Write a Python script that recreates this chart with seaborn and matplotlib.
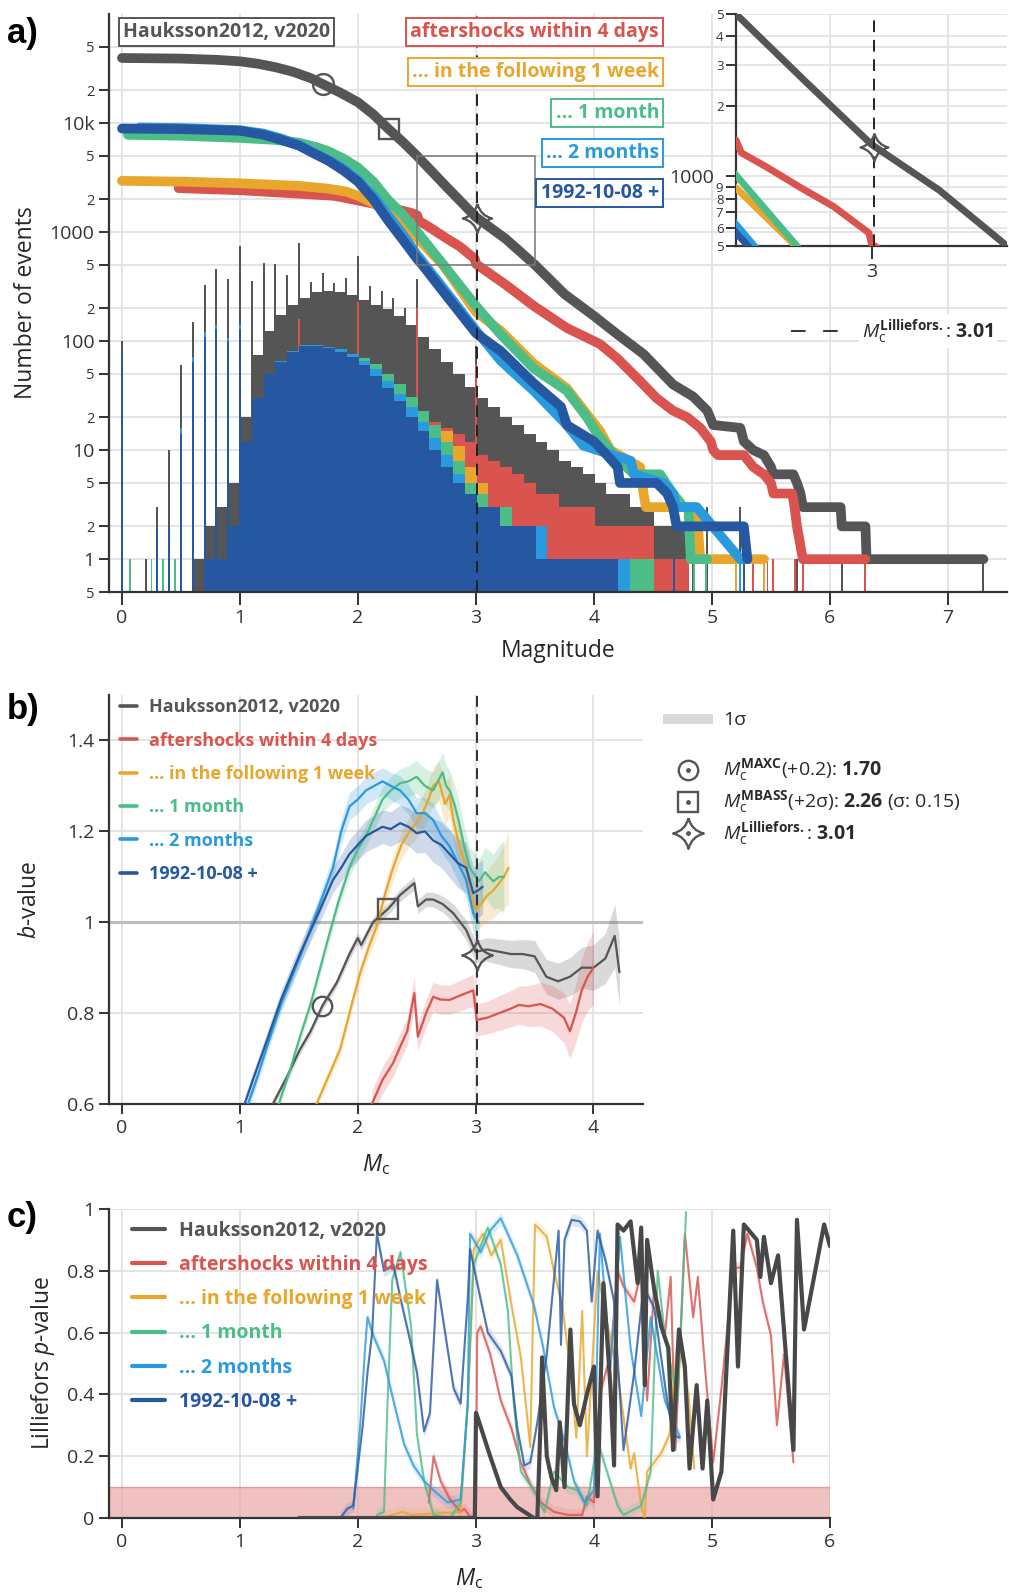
import numpy as np
import matplotlib
matplotlib.use("Agg")
import matplotlib.pyplot as plt
import seaborn as sns
from matplotlib.path import Path
from matplotlib.lines import Line2D
from matplotlib.patches import Rectangle
from matplotlib.ticker import FixedLocator, FixedFormatter

W, H = 1009, 1595

# ---------------------------------------------------------------- data
series = ["Hauksson2012, v2020", "aftershocks within 4 days",
          "... in the following 1 week", "... 1 month", "... 2 months",
          "1992-10-08 +"]
colors = ["#555555", "#d9534f", "#e8a62c", "#4dbd88", "#2a9ade", "#2658a2"]

# cumulative number of events N(>=M)
cum_m_hauksson = [0.0, 0.5, 0.8, 1.0, 1.15, 1.3, 1.45, 1.6, 1.7, 1.85, 2.0, 2.13, 2.26, 2.38, 2.5,
                  2.75, 3.0, 3.25, 3.5, 3.75, 4.0, 4.2, 4.42, 4.67, 4.84, 4.96, 5.01, 5.24, 5.27,
                  5.35, 5.44, 5.5, 5.52, 5.69, 5.72, 5.75, 5.77, 6.09, 6.1, 6.3, 6.31, 7.3]
cum_n_hauksson = [39500, 39000, 38000, 36800, 35000, 32500, 29500, 25800, 22800, 19000, 15500, 12000,
                  8800, 6700, 5000, 2600, 1370, 870, 500, 270, 170, 115, 76, 40, 31, 23, 17, 16, 12,
                  10, 9, 7, 6, 6, 5, 4, 3, 3, 2, 2, 1, 1]
cum_m_aftershocks = [0.48, 1.0, 1.5, 1.8, 2.0, 2.15, 2.3, 2.45, 2.5, 2.52, 2.61, 2.74, 2.86, 2.96,
                     2.99, 3.0, 3.25, 3.49, 3.77, 4.05, 4.2, 4.39, 4.53, 4.67, 4.79, 4.9, 4.99, 5.01,
                     5.05, 5.27, 5.35, 5.44, 5.5, 5.52, 5.68, 5.7, 5.72, 5.77, 6.3]
cum_n_aftershocks = [2530, 2420, 2250, 2150, 1950, 1800, 1650, 1500, 1430, 1260, 1100, 890, 740, 605,
                     570, 510, 330, 210, 132, 94, 69, 43, 30, 23, 20, 16, 12, 10, 9, 9, 7, 6, 5, 4,
                     4, 3, 2, 1, 1]
cum_m_week = [0.0, 0.5, 1.0, 1.5, 1.75, 1.9, 2.0, 2.13, 2.25, 2.38, 2.5, 2.72, 3.0, 3.21, 3.49, 3.77,
              4.05, 4.14, 4.39, 4.42, 4.44, 4.87, 4.9, 5.44]
cum_n_week = [2950, 2900, 2800, 2650, 2500, 2350, 2150, 1850, 1500, 1150, 890, 500, 185, 124, 62, 37,
              15, 10, 7, 4, 3, 3, 1, 1]
cum_m_month = [0.05, 0.5, 1.0, 1.3, 1.5, 1.65, 1.75, 1.88, 2.0, 2.13, 2.25, 2.38, 2.5, 2.725, 3.0,
               3.21, 3.49, 3.77, 3.94, 4.03, 4.17, 4.34, 4.56, 4.67, 4.76, 4.8, 4.82, 4.96]
cum_n_month = [7800, 7650, 7300, 7000, 6600, 6000, 5500, 4700, 3900, 2900, 2000, 1450, 1010, 500,
               210, 115, 56, 35, 20, 14, 9, 6, 6, 4, 3, 3, 1, 1]
cum_m_2months = [0.15, 0.5, 1.0, 1.2, 1.35, 1.5, 1.62, 1.75, 1.88, 2.0, 2.13, 2.25, 2.38, 2.5, 2.75,
                 3.0, 3.21, 3.49, 3.77, 3.91, 4.31, 4.34, 4.59, 4.67, 4.7, 4.87, 5.24, 5.3]
cum_n_2months = [9100, 9000, 8600, 8000, 7200, 6300, 5400, 4600, 3800, 3000, 2150, 1450, 950, 620,
                 280, 125, 66, 35, 17, 11, 8, 6, 5, 4, 3, 3, 1, 1]
cum_m_1992 = [0.0, 0.5, 1.0, 1.2, 1.35, 1.5, 1.62, 1.75, 1.88, 2.0, 2.13, 2.25, 2.38, 2.5, 2.545,
              2.75, 3.0, 3.21, 3.49, 3.72, 3.77, 4.0, 4.11, 4.2, 4.22, 4.53, 4.62, 4.67, 4.7, 5.27,
              5.3]
cum_n_1992 = [8900, 8800, 8500, 7800, 7000, 6200, 5300, 4500, 3650, 2900, 2000, 1300, 850, 570, 500,
              260, 118, 81, 41, 25, 17, 12, 9, 7, 5, 5, 4, 3, 2, 2, 1]

# events per 0.01 magnitude bin, summarised in 0.1-wide blocks starting at M 0.5
hist_start, hist_step = 0.5, 0.1
hist_hauksson = [0, 1, 2, 3, 5, 20, 75, 125, 175, 215, 250, 280, 290, 280, 265, 240, 215, 195, 170,
                 140, 110, 85, 65, 50, 38, 30, 25, 20, 17, 14, 12, 10, 8, 7, 6, 5, 4, 4, 3, 3, 2, 2, 2]
hist_aftershocks = [0, 0, 0, 0, 0, 2, 2, 2, 2, 2, 5, 6, 6, 7, 8, 9, 9, 10, 10, 11, 18, 18, 16, 14, 12,
                    9, 8, 7, 6, 5, 4, 4, 3, 3, 3, 2, 2, 2, 2, 2, 1, 1, 1]
hist_week = [0, 0, 0, 0, 1, 2, 2, 3, 4, 6, 8, 10, 14, 18, 22, 26, 27, 26, 24, 21, 18, 17, 15, 11, 7,
             5, 3, 3, 2, 2, 2, 1, 1, 1, 1, 1, 1, 1, 1, 1, 0, 0, 0]
hist_month = [0, 0, 0, 1, 2, 8, 20, 32, 42, 55, 65, 75, 80, 80, 75, 70, 62, 50, 40, 31, 23, 17, 12, 8,
              5, 4, 3, 3, 2, 2, 2, 1, 1, 1, 1, 1, 1, 1, 1, 1, 0, 0, 0]
hist_2months = [0, 0, 1, 1, 2, 12, 30, 50, 66, 82, 92, 92, 88, 84, 76, 66, 55, 43, 33, 25, 18, 13, 9,
                6, 4, 3, 3, 2, 2, 2, 2, 1, 1, 1, 1, 1, 1, 1, 0, 0, 0, 0, 0]
hist_1992 = [0, 0, 1, 1, 2, 12, 30, 50, 65, 80, 90, 90, 86, 80, 72, 60, 48, 37, 28, 20, 15, 10, 7, 5,
             4, 3, 3, 2, 2, 2, 1, 1, 1, 1, 1, 1, 1, 0, 0, 0, 0, 0, 0]

# single-bin counts (rounded magnitudes and isolated large events)
spike_m_hauksson = [0.0, 0.2, 0.3, 0.4, 0.5, 0.6, 0.7, 0.8, 0.9, 1.0, 1.1, 1.2, 1.3, 1.4, 1.5, 1.6,
                    1.7, 1.8, 1.9, 2.0, 2.1, 2.2, 2.3, 2.4, 2.5, 3.0, 4.84, 4.96, 5.24, 5.47, 5.72,
                    6.1, 7.3]
spike_n_hauksson = [100, 1, 3, 10, 60, 150, 330, 460, 370, 745, 355, 520, 505, 400, 790, 350, 420,
                    340, 380, 600, 320, 290, 250, 200, 370, 90, 3, 3, 3, 1, 1, 1, 1]
spike_m_aftershocks = [1.5, 2.0, 2.5, 3.0, 5.35, 5.47, 5.52, 5.7, 5.77, 6.3]
spike_n_aftershocks = [160, 230, 200, 62, 1, 1, 1, 1, 1, 1]
spike_m_week = [4.95, 5.2, 5.44]
spike_n_week = [1, 1, 1]
spike_m_month = [0.07, 0.25, 0.3, 0.35, 0.45, 4.85, 4.95]
spike_n_month = [1, 1, 1, 1, 1, 1, 1]
spike_m_2months = [0.5, 0.6, 0.7, 0.8, 0.9, 1.0, 5.24]
spike_n_2months = [16, 72, 122, 142, 107, 142, 1]
spike_m_1992 = [0.0, 0.3, 0.4, 0.5, 0.6, 0.7, 0.8, 0.9, 1.0, 4.68, 5.27]
spike_n_1992 = [76, 2, 2, 14, 65, 110, 130, 100, 130, 1, 1]

# completeness estimates
mc_maxc, mc_mbass, mc_lillie = 1.70, 2.26, 3.01
cum_at_mc = [22800, 8800, 1340]
b_at_mc = [0.816, 1.03, 0.928]

# b-value vs Mc: (Mc, b, sigma)
b_hauksson = [(1.28, 0.60, 0.01), (1.4, 0.66, 0.01), (1.51, 0.72, 0.01), (1.6, 0.76, 0.01),
              (1.70, 0.816, 0.01), (1.82, 0.866, 0.01), (1.93, 0.93, 0.012), (2.0, 0.965, 0.012),
              (2.03, 0.95, 0.012), (2.13, 1.0, 0.012), (2.26, 1.03, 0.013), (2.36, 1.06, 0.014),
              (2.48, 1.086, 0.015), (2.51, 1.035, 0.015), (2.58, 1.05, 0.016), (2.64, 1.05, 0.016),
              (2.72, 1.04, 0.018), (2.81, 1.02, 0.02), (2.92, 0.983, 0.022), (3.0, 0.935, 0.024),
              (3.1, 0.94, 0.026), (3.2, 0.935, 0.028), (3.3, 0.93, 0.03), (3.4, 0.93, 0.032),
              (3.5, 0.925, 0.035), (3.6, 0.88, 0.038), (3.7, 0.87, 0.04), (3.8, 0.88, 0.042),
              (3.9, 0.9, 0.045), (4.0, 0.9, 0.05), (4.1, 0.92, 0.055), (4.18, 0.97, 0.07),
              (4.22, 0.89, 0.075)]
b_aftershocks = [(2.12, 0.60, 0.03), (2.21, 0.653, 0.03), (2.3, 0.69, 0.03), (2.36, 0.726, 0.03),
                 (2.42, 0.76, 0.03), (2.48, 0.844, 0.035), (2.51, 0.748, 0.03), (2.58, 0.8, 0.03),
                 (2.64, 0.836, 0.032), (2.7, 0.83, 0.032), (2.78, 0.829, 0.032), (2.88, 0.84, 0.034),
                 (2.98, 0.85, 0.035), (3.01, 0.785, 0.035), (3.1, 0.79, 0.036), (3.2, 0.8, 0.038),
                 (3.3, 0.81, 0.04), (3.37, 0.818, 0.042), (3.45, 0.815, 0.045), (3.55, 0.82, 0.048),
                 (3.65, 0.81, 0.05), (3.75, 0.79, 0.055), (3.8, 0.76, 0.06), (3.85, 0.8, 0.065),
                 (3.9, 0.85, 0.07), (3.95, 0.88, 0.075), (4.0, 0.9, 0.08)]
b_week = [(1.65, 0.60, 0.01), (1.75, 0.66, 0.012), (1.85, 0.72, 0.014), (1.95, 0.82, 0.016),
          (2.02, 0.888, 0.018), (2.1, 0.95, 0.02), (2.16, 0.99, 0.022), (2.23, 1.06, 0.025),
          (2.3, 1.12, 0.028), (2.37, 1.17, 0.03), (2.44, 1.2, 0.032), (2.5, 1.22, 0.035),
          (2.55, 1.24, 0.038), (2.6, 1.27, 0.04), (2.64, 1.30, 0.042), (2.69, 1.31, 0.045),
          (2.74, 1.26, 0.045), (2.78, 1.28, 0.045), (2.81, 1.225, 0.045), (2.86, 1.17, 0.045),
          (2.92, 1.12, 0.045), (2.96, 1.07, 0.045), (3.0, 1.027, 0.045), (3.05, 1.04, 0.05),
          (3.09, 1.057, 0.055), (3.15, 1.07, 0.06), (3.2, 1.086, 0.065), (3.24, 1.1, 0.07),
          (3.28, 1.12, 0.08)]
b_month = [(1.33, 0.60, 0.01), (1.42, 0.67, 0.01), (1.51, 0.748, 0.012), (1.6, 0.82, 0.014),
           (1.73, 0.946, 0.016), (1.83, 1.04, 0.018), (1.93, 1.12, 0.02), (2.0, 1.16, 0.022),
           (2.07, 1.19, 0.024), (2.14, 1.23, 0.026), (2.21, 1.27, 0.028), (2.28, 1.29, 0.03),
           (2.36, 1.306, 0.032), (2.43, 1.31, 0.034), (2.5, 1.32, 0.036), (2.57, 1.3, 0.038),
           (2.64, 1.29, 0.04), (2.68, 1.31, 0.042), (2.72, 1.33, 0.045), (2.75, 1.3, 0.045),
           (2.78, 1.29, 0.045), (2.82, 1.26, 0.045), (2.86, 1.22, 0.045), (2.9, 1.17, 0.045),
           (2.95, 1.12, 0.045), (3.0, 1.1, 0.05), (3.03, 1.09, 0.05), (3.08, 1.11, 0.055),
           (3.15, 1.09, 0.06), (3.2, 1.1, 0.07), (3.24, 1.1, 0.08)]
b_2months = [(1.07, 0.60, 0.015), (1.15, 0.66, 0.015), (1.23, 0.726, 0.016), (1.35, 0.82, 0.018),
             (1.51, 0.924, 0.02), (1.65, 1.02, 0.022), (1.79, 1.12, 0.025), (1.86, 1.2, 0.027),
             (1.93, 1.255, 0.03), (2.0, 1.27, 0.03), (2.07, 1.29, 0.03), (2.14, 1.30, 0.03),
             (2.21, 1.31, 0.03), (2.28, 1.3, 0.03), (2.36, 1.29, 0.032), (2.43, 1.27, 0.033),
             (2.5, 1.24, 0.034), (2.57, 1.24, 0.035), (2.64, 1.225, 0.036), (2.71, 1.19, 0.037),
             (2.78, 1.167, 0.038), (2.85, 1.13, 0.04), (2.92, 1.093, 0.04), (2.98, 1.02, 0.042),
             (3.03, 0.998, 0.045)]
b_1992 = [(1.04, 0.60, 0.015), (1.12, 0.66, 0.016), (1.23, 0.74, 0.018), (1.35, 0.83, 0.02),
          (1.51, 0.93, 0.022), (1.65, 1.01, 0.025), (1.79, 1.093, 0.028), (1.86, 1.12, 0.03),
          (1.93, 1.15, 0.032), (2.0, 1.17, 0.034), (2.07, 1.19, 0.035), (2.14, 1.2, 0.036),
          (2.21, 1.21, 0.037), (2.28, 1.205, 0.038), (2.36, 1.218, 0.04), (2.43, 1.21, 0.042),
          (2.5, 1.196, 0.044), (2.57, 1.2, 0.046), (2.64, 1.18, 0.048), (2.71, 1.17, 0.05),
          (2.78, 1.15, 0.052), (2.85, 1.13, 0.054), (2.92, 1.12, 0.056), (2.98, 1.064, 0.058),
          (3.02, 1.07, 0.06), (3.06, 1.078, 0.06)]

# Lilliefors p-value vs Mc: (Mc, p)
p_hauksson = [(1.5, 0.0), (2.99, 0.0), (3.0, 0.34), (3.01, 0.33), (3.12, 0.2), (3.21, 0.1),
              (3.29, 0.06), (3.35, 0.035), (3.49, 0.0), (3.52, 0.0), (3.55, 0.34), (3.56, 0.52),
              (3.6, 0.2), (3.64, 0.13), (3.68, 0.09), (3.71, 0.31), (3.75, 0.1), (3.8, 0.61),
              (3.83, 0.37), (3.88, 0.30), (3.94, 0.40), (4.0, 0.49), (4.03, 0.07), (4.08, 0.76),
              (4.14, 0.42), (4.17, 0.17), (4.2, 0.95), (4.25, 0.93), (4.31, 0.96), (4.37, 0.76),
              (4.4, 0.94), (4.43, 0.43), (4.45, 0.9), (4.51, 0.74), (4.57, 0.62), (4.63, 0.55),
              (4.67, 0.22), (4.72, 0.61), (4.77, 0.49), (4.81, 0.16), (4.87, 0.43), (4.92, 0.16),
              (4.96, 0.38), (5.01, 0.06), (5.08, 0.15), (5.18, 0.93), (5.22, 0.49), (5.27, 0.95),
              (5.38, 0.9), (5.41, 0.78), (5.44, 0.91), (5.5, 0.76), (5.56, 0.85), (5.69, 0.22),
              (5.72, 0.965), (5.78, 0.61), (5.95, 0.95), (6.0, 0.88)]
p_aftershocks = [(2.6, 0.05), (2.64, 0.2), (2.7, 0.12), (2.78, 0.06), (2.87, 0.02), (2.9, 0.03),
                 (2.96, 0.0), (3.0, 0.0), (3.01, 0.6), (3.04, 0.62), (3.12, 0.53), (3.21, 0.38),
                 (3.3, 0.29), (3.38, 0.18), (3.46, 0.11), (3.55, 0.05), (3.66, 0.02), (3.78, 0.01),
                 (3.9, 0.01), (3.94, 0.07), (4.0, 0.05), (4.05, 0.4), (4.14, 0.53), (4.2, 0.8),
                 (4.25, 0.75), (4.34, 0.7), (4.4, 0.8), (4.45, 0.38), (4.51, 0.75), (4.6, 0.59),
                 (4.65, 0.78), (4.69, 0.22), (4.77, 0.92), (4.84, 0.65), (4.88, 0.78), (4.94, 0.49),
                 (5.01, 0.18), (5.08, 0.42), (5.18, 0.81), (5.24, 0.81), (5.3, 0.92), (5.38, 0.81),
                 (5.43, 0.7), (5.5, 0.59), (5.55, 0.3), (5.61, 0.53), (5.69, 0.18)]
p_week = [(2.2, 0.0), (2.38, 0.02), (2.45, 0.01), (2.87, 0.02), (2.93, 0.37), (2.98, 0.87),
          (3.06, 0.92), (3.13, 0.85), (3.21, 0.9), (3.3, 0.69), (3.38, 0.52), (3.46, 0.23),
          (3.5, 0.95), (3.6, 0.91), (3.66, 0.8), (3.73, 0.69), (3.8, 0.48), (3.85, 0.26),
          (3.9, 0.67), (3.94, 0.2), (4.03, 0.8), (4.1, 0.65), (4.2, 0.47), (4.27, 0.27),
          (4.31, 0.16), (4.34, 0.21), (4.4, 0.04), (4.43, 0.0), (4.45, 0.15), (4.57, 0.21),
          (4.64, 0.27), (4.71, 0.59), (4.8, 0.4), (4.85, 0.16)]
p_month = [(2.16, 0.01), (2.22, 0.02), (2.25, 0.37), (2.29, 0.77), (2.36, 0.86), (2.45, 0.62),
           (2.5, 0.27), (2.56, 0.12), (2.64, 0.01), (2.78, 0.0), (2.87, 0.05), (2.93, 0.37),
           (2.98, 0.82), (3.1, 0.94), (3.21, 0.82), (3.27, 0.67), (3.32, 0.37), (3.38, 0.15),
           (3.49, 0.09), (3.58, 0.02), (3.66, 0.15), (3.78, 0.1), (3.86, 0.09), (3.94, 0.04),
           (4.03, 0.25), (4.11, 0.15), (4.2, 0.04), (4.25, 0.01), (4.4, 0.04), (4.48, 0.15),
           (4.54, 0.8), (4.6, 0.59), (4.71, 0.38), (4.78, 0.99)]
p_2months = [(1.96, 0.03), (2.02, 0.31), (2.06, 0.55), (2.08, 0.65), (2.13, 0.59), (2.22, 0.51),
             (2.3, 0.38), (2.39, 0.24), (2.47, 0.17), (2.56, 0.12), (2.64, 0.09), (2.76, 0.05),
             (2.87, 0.06), (2.93, 0.37), (2.95, 0.92), (3.04, 0.86), (3.12, 0.93), (3.21, 0.97),
             (3.35, 0.85), (3.49, 0.69), (3.57, 0.55), (3.66, 0.36), (3.75, 0.25), (3.83, 0.12),
             (3.92, 0.05), (4.0, 0.09), (4.05, 0.92), (4.14, 0.49), (4.22, 0.91), (4.31, 0.55),
             (4.4, 0.33), (4.48, 0.65), (4.6, 0.38), (4.73, 0.26)]
p_1992 = [(1.85, 0.0), (1.91, 0.03), (1.96, 0.04), (2.0, 0.17), (2.04, 0.3), (2.08, 0.47),
          (2.12, 0.6), (2.16, 0.92), (2.22, 0.8), (2.3, 0.82), (2.36, 0.71), (2.45, 0.56),
          (2.5, 0.47), (2.56, 0.28), (2.61, 0.34), (2.67, 0.77), (2.73, 0.62), (2.81, 0.42),
          (2.87, 0.37), (2.93, 0.71), (2.95, 0.87), (3.01, 0.76), (3.1, 0.6), (3.21, 0.54),
          (3.3, 0.46), (3.35, 0.29), (3.41, 0.17), (3.46, 0.18), (3.52, 0.31), (3.6, 0.53),
          (3.7, 0.93), (3.72, 0.56), (3.75, 0.9), (3.81, 0.965), (3.88, 0.96), (3.94, 0.93),
          (3.98, 0.7), (4.03, 0.93), (4.05, 0.9), (4.1, 0.83), (4.17, 0.7), (4.25, 0.22),
          (4.34, 0.47), (4.42, 0.75), (4.51, 0.68), (4.62, 0.38), (4.67, 0.27), (4.72, 0.26)]
p_band = 0.02
p_reject = 0.1

cum_m = [cum_m_hauksson, cum_m_aftershocks, cum_m_week, cum_m_month, cum_m_2months, cum_m_1992]
cum_n = [cum_n_hauksson, cum_n_aftershocks, cum_n_week, cum_n_month, cum_n_2months, cum_n_1992]
hists = [hist_hauksson, hist_aftershocks, hist_week, hist_month, hist_2months, hist_1992]
spike_m = [spike_m_hauksson, spike_m_aftershocks, spike_m_week, spike_m_month, spike_m_2months, spike_m_1992]
spike_n = [spike_n_hauksson, spike_n_aftershocks, spike_n_week, spike_n_month, spike_n_2months, spike_n_1992]
bvals = [b_hauksson, b_aftershocks, b_week, b_month, b_2months, b_1992]
pvals = [p_hauksson, p_aftershocks, p_week, p_month, p_2months, p_1992]

# ---------------------------------------------------------------- style
sns.set_theme(style="white")
plt.rcParams["font.family"] = ["Open Sans", "DejaVu Sans"]
plt.rcParams.update({
    "mathtext.fontset": "custom",
    "mathtext.rm": "Open Sans",
    "mathtext.it": "Open Sans:italic",
    "mathtext.bf": "Open Sans:bold",
    "axes.edgecolor": "#333333",
    "text.color": "#2a2a2a",
    "xtick.color": "#333333",
    "ytick.color": "#333333",
})
INK = "#333333"
GRID = "#e2e2e2"

# four-pointed star marker with concave sides
star = Path([(0, 1), (0.2, 0.2), (1, 0), (0.2, -0.2), (0, -1), (-0.2, -0.2), (-1, 0), (-0.2, 0.2), (0, 1)],
            [Path.MOVETO] + [Path.CURVE3] * 8)


def rect(l, t, r, b):
    return [l / W, 1 - b / H, (r - l) / W, (b - t) / H]


def fpx(x, y):
    return (x / W, 1 - y / H)


def style_axes(ax):
    for s in ("top", "right"):
        ax.spines[s].set_visible(False)
    for s in ("left", "bottom"):
        ax.spines[s].set_linewidth(1.6)
        ax.spines[s].set_color(INK)
    ax.tick_params(which="both", direction="out", length=7, width=1.4, labelsize=14,
                   left=True, bottom=True, colors=INK)
    ax.set_axisbelow(True)


fig = plt.figure(figsize=(W / 100, H / 100), dpi=100)

# ================================================================ panel a
ax = fig.add_axes(rect(109, 14, 1007, 592))
style_axes(ax)
ax.set_yscale("log")
ax.set_xlim(-0.11, 7.5)
ax.set_ylim(0.5, 1.0e5)
ax.grid(True, which="both", color=GRID, lw=1.3)

edges = hist_start + hist_step * np.arange(len(hist_hauksson))
for i in range(6):
    h = np.asarray(hists[i], float)
    k = h > 0
    ax.bar(edges[k], h[k] - 0.1, bottom=0.1, width=hist_step * 1.05, align="edge",
           color=colors[i], lw=0, zorder=1)
    sm = np.asarray(spike_m[i]); sn = np.asarray(spike_n[i], float)
    ax.bar(sm, sn - 0.1, bottom=0.1, width=0.016, align="center",
           color=colors[i], lw=0, zorder=1)

for i in range(6):
    sns.lineplot(x=cum_m[i], y=cum_n[i], ax=ax, color=colors[i], lw=7, sort=False,
                 estimator=None, solid_capstyle="round", solid_joinstyle="round", zorder=3)

mk = dict(mfc="none", mec="#555555", mew=1.7, zorder=6, ls="none")
ax.plot([mc_maxc], [cum_at_mc[0]], marker="o", ms=15, **mk)
ax.plot([mc_mbass], [cum_at_mc[1]], marker="s", ms=15, **mk)
ax.plot([mc_lillie], [cum_at_mc[2]], marker=star, ms=21, **mk)
ax.axvline(mc_lillie, color="#222222", lw=1.4, ls=(0, (6, 4)), zorder=5)
ax.add_patch(Rectangle((2.5, 500), 1.0, 4500, fill=False, ec="#777777", lw=1.1, zorder=4))

ax.set_xticks(range(8))
ax.set_xticklabels([str(v) for v in range(8)])
ax.yaxis.set_major_locator(FixedLocator([1, 10, 100, 1000, 10000]))
ax.yaxis.set_major_formatter(FixedFormatter(["1", "10", "100", "1000", "10k"]))
minor_v = [0.5, 2, 5, 20, 50, 200, 500, 2000, 5000, 20000, 50000]
ax.yaxis.set_minor_locator(FixedLocator(minor_v))
ax.yaxis.set_minor_formatter(FixedFormatter(["5", "2", "5", "2", "5", "2", "5", "2", "5", "2", "5"]))
ax.tick_params(axis="y", which="minor", labelsize=10.5)
ax.tick_params(axis="x", length=9)
ax.set_xlabel("Magnitude", fontsize=16.5)
ax.set_ylabel("Number of events", fontsize=16.5)
ax.xaxis.set_label_coords(0.5, -0.082)
ax.yaxis.set_label_coords(-0.079, 0.5)

# series boxes
box_kw = dict(fontsize=14, fontweight="bold", va="center", zorder=10)
fig.text(*fpx(123, 32), series[0], color=colors[0], ha="left",
         bbox=dict(boxstyle="square,pad=0.22", fc="white", ec=colors[0], lw=1.4), **box_kw)
for i, yy in zip(range(1, 6), [32, 72, 113, 153, 193]):
    fig.text(*fpx(659, yy), series[i], color=colors[i], ha="right",
             bbox=dict(boxstyle="square,pad=0.22", fc="white", ec=colors[i], lw=1.4), **box_kw)

# Mc legend entry
fig.add_artist(Line2D([791 / W, 838 / W], [1 - 331 / H] * 2, transform=fig.transFigure,
                      color=INK, lw=1.4, ls=(0, (7.5, 9))))
fig.text(*fpx(862, 331), r"$M_\mathrm{c}^{\mathbf{Lilliefors.}}$: $\mathbf{3.01}$",
         fontsize=14, va="center", ha="left",
         bbox=dict(boxstyle="square,pad=0.15", fc="white", ec="none"))

# inset
axi = fig.add_axes(rect(736, 14, 1007, 246))
axi.patch.set_alpha(0)
style_axes(axi)
axi.set_yscale("log")
axi.set_xlim(2.5, 3.5)
axi.set_ylim(500, 5000)
axi.grid(True, axis="y", which="both", color=GRID, lw=1.2)
for i in range(6):
    axi.plot(cum_m[i], cum_n[i], color=colors[i], lw=5, solid_capstyle="round",
             solid_joinstyle="round", zorder=3)
axi.plot([mc_lillie], [cum_at_mc[2]], marker=star, ms=20, **mk)
axi.axvline(mc_lillie, color="#222222", lw=1.4, ls=(0, (6, 4)), zorder=5)
axi.set_xticks([3])
axi.set_xticklabels(["3"])
axi.yaxis.set_major_locator(FixedLocator([1000]))
axi.yaxis.set_major_formatter(FixedFormatter(["1000"]))
axi.yaxis.set_minor_locator(FixedLocator([500, 600, 700, 800, 900, 2000, 3000, 4000, 5000]))
axi.yaxis.set_minor_formatter(FixedFormatter(["5", "6", "7", "8", "9", "2", "3", "4", "5"]))
axi.tick_params(axis="y", which="minor", labelsize=9.5, pad=2)
axi.tick_params(axis="y", which="major", labelsize=14, pad=9)
axi.tick_params(axis="x", length=9)

# ================================================================ panel b
axb = fig.add_axes(rect(109, 695, 643, 1104))
style_axes(axb)
axb.set_xlim(-0.11, 4.42)
axb.set_ylim(0.6, 1.5)
axb.grid(True, color=GRID, lw=1.3)
axb.axhline(1.0, color="#bdbdbd", lw=2.2, zorder=1)
for i in range(6):
    arr = np.asarray(bvals[i])
    axb.fill_between(arr[:, 0], arr[:, 1] - arr[:, 2], arr[:, 1] + arr[:, 2],
                     color=colors[i], alpha=0.22, lw=0, zorder=2)
for i in range(6):
    arr = np.asarray(bvals[i])
    sns.lineplot(x=arr[:, 0], y=arr[:, 1], ax=axb, color=colors[i], lw=1.6,
                 estimator=None, sort=False, zorder=3)
axb.plot([mc_maxc], [b_at_mc[0]], marker="o", ms=14, **mk)
axb.plot([mc_mbass], [b_at_mc[1]], marker="s", ms=14, **mk)
axb.plot([mc_lillie], [b_at_mc[2]], marker=star, ms=22, **mk)
axb.axvline(mc_lillie, color="#222222", lw=1.3, ls=(0, (6, 4)), zorder=5)
axb.set_xticks(range(5))
axb.set_xticklabels([str(v) for v in range(5)])
axb.set_yticks([0.6, 0.8, 1.0, 1.2, 1.4])
axb.set_yticklabels(["0.6", "0.8", "1", "1.2", "1.4"])
axb.set_xlabel(r"$M_\mathrm{c}$", fontsize=16.5)
axb.set_ylabel(r"$b$-value", fontsize=16.5)
axb.xaxis.set_label_coords(0.5, -0.117)
axb.yaxis.set_label_coords(-0.125, 0.5)
hb = [Line2D([], [], color=c, lw=2.6) for c in colors]
axb.legend(hb, series, loc="upper left", bbox_to_anchor=(0.02, 0.992), frameon=False,
           borderpad=0, borderaxespad=0, handlelength=0.95, handletextpad=0.7,
           labelspacing=0.85, prop=dict(weight="bold", size=13), labelcolor=colors)

# marker / band key
fig.add_artist(Rectangle(fpx(663, 724), 50 / W, 10 / H, transform=fig.transFigure,
                         color="#d9d9d9", lw=0))
fig.text(*fpx(723, 720), "1σ", fontsize=14, va="center", ha="left")
for yy, m, ms in [(770, "o", 14), (802, "s", 14), (833, star, 22)]:
    fig.add_artist(Line2D([688 / W], [1 - yy / H], transform=fig.transFigure, marker=m, ms=ms,
                          mfc="none", mec="#555555", mew=1.7))
    fig.add_artist(Line2D([688 / W], [1 - yy / H], transform=fig.transFigure, marker="o", ms=2.5,
                          mfc="#555555", mec="#555555"))
fig.text(*fpx(723, 770), r"$M_\mathrm{c}^{\mathbf{MAXC}}$(+0.2): $\mathbf{1.70}$",
         fontsize=14, va="center", ha="left")
fig.text(*fpx(723, 802), r"$M_\mathrm{c}^{\mathbf{MBASS}}$(+2σ): $\mathbf{2.26}$ (σ: 0.15)",
         fontsize=14, va="center", ha="left")
fig.text(*fpx(723, 833), r"$M_\mathrm{c}^{\mathbf{Lilliefors.}}$: $\mathbf{3.01}$",
         fontsize=14, va="center", ha="left")

# ================================================================ panel c
axc = fig.add_axes(rect(109, 1209, 830, 1518))
style_axes(axc)
axc.set_xlim(-0.11, 6.0)
axc.set_ylim(0, 1.0)
axc.grid(True, color=GRID, lw=1.3)
axc.axhspan(0, p_reject, fc="#eba9a9", ec="#dd8080", lw=1.0, alpha=0.72, zorder=1)
for i in range(1, 6):
    arr = np.asarray(pvals[i])
    axc.fill_between(arr[:, 0], np.clip(arr[:, 1] - p_band, 0, 1), np.clip(arr[:, 1] + p_band, 0, 1),
                     color=colors[i], alpha=0.15, lw=0, zorder=2)
    sns.lineplot(x=arr[:, 0], y=arr[:, 1], ax=axc, color=colors[i], lw=1.5, alpha=0.8,
                 estimator=None, sort=False, zorder=3)
arr = np.asarray(pvals[0])
sns.lineplot(x=arr[:, 0], y=arr[:, 1], ax=axc, color="#484848", lw=3.0,
             estimator=None, sort=False, zorder=4)
axc.set_xticks(range(7))
axc.set_xticklabels([str(v) for v in range(7)])
axc.set_yticks([0, 0.2, 0.4, 0.6, 0.8, 1.0])
axc.set_yticklabels(["0", "0.2", "0.4", "0.6", "0.8", "1"])
axc.set_xlabel(r"$M_\mathrm{c}$", fontsize=16.5)
axc.set_ylabel(r"Lilliefors $p$-value", fontsize=16.5)
axc.xaxis.set_label_coords(0.5, -0.155)
axc.yaxis.set_label_coords(-0.072, 0.5)
hc = [Line2D([], [], color=c, lw=3) for c in colors]
axc.legend(hc, series, loc="upper left", bbox_to_anchor=(0.032, 0.962), frameon=False,
           borderpad=0, borderaxespad=0, handlelength=1.7, handletextpad=0.7,
           labelspacing=0.73, prop=dict(weight="bold", size=14), labelcolor=colors)

# panel letters
for lab, yy in [("a)", 34), ("b)", 710), ("c)", 1218)]:
    fig.text(*fpx(7, yy), lab, fontsize=25, fontweight="bold", va="center", ha="left",
             family=["Liberation Sans", "DejaVu Sans"], color="black")

fig.savefig("out.png", dpi=100)
